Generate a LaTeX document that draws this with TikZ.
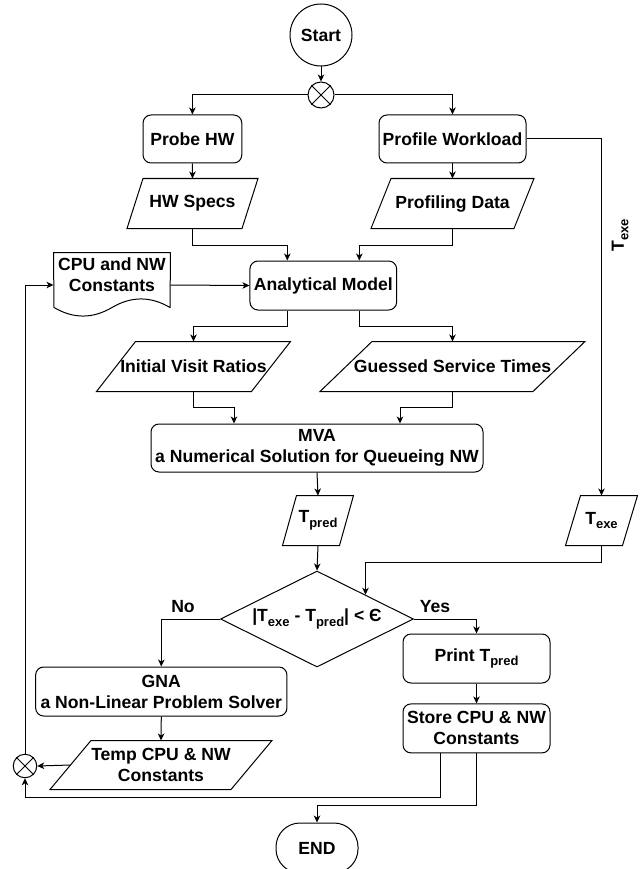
\documentclass[tikz,border=0pt]{standalone}
\usepackage{fontspec}
\setmainfont{Liberation Sans}
\usetikzlibrary{arrows.meta,calc,shapes.geometric}
\newcommand{\subt}[1]{\raisebox{-4.5pt}{\fontsize{13}{13}\selectfont #1}}
\newcommand{\mypara}[7]{%
  \node[pbox, minimum width=#4pt, minimum height=#5pt] (#1) at (#2,#3) {#7};
  \draw ($(#1.south west)+(-0.5*#6,0)$) -- ($(#1.south east)+(-0.5*#6,0)$) --
        ($(#1.north east)+(0.5*#6,0)$) -- ($(#1.north west)+(0.5*#6,0)$) -- cycle;}
\begin{document}
\begin{tikzpicture}[x=1pt,y=-1pt,line width=1pt,
  every node/.style={font=\fontsize{17.6}{21}\selectfont\bfseries, align=center},
  rbox/.style={draw, rounded corners=8pt, inner sep=0pt},
  pbox/.style={inner sep=0pt},
  xcirc/.style={draw, circle, inner sep=0pt},
  arr/.style={-{Stealth[length=7pt,width=6.5pt,inset=2pt]}}]
\useasboundingbox (0,0) rectangle (640,869);
\clip (0,0) rectangle (640,869);

% nodes
\node[draw, circle, minimum size=62pt, inner sep=0pt] (start) at (321,35) {Start};
\node[xcirc, minimum size=26pt] (m1) at (321,95) {};
\draw (m1.north west) -- (m1.south east) (m1.north east) -- (m1.south west);

\node[rbox, minimum width=98.7pt, minimum height=48pt] (probe) at (192.4,139) {Probe HW};
\node[rbox, minimum width=147pt, minimum height=48pt] (profile) at (452.5,139) {Profile Workload};

\mypara{hws}{192.5}{203.5}{114}{49}{16}{HW Specs}
\mypara{pdata}{452.5}{203.5}{142}{49}{20}{Profiling Data}

\node[inner sep=0pt, minimum width=116pt, minimum height=64pt] (doc) at (112,285) {};
\draw (doc.north east) -- (doc.north west) -- (54,307.5)
  .. controls (73.33,318.9) and (92.67,318.9) .. (112,307.5)
  .. controls (131.33,296.1) and (150.67,296.1) .. (170,307.5) -- (doc.north east);
\node[pbox] (doctext) at ([yshift=10pt]doc.center) {CPU and NW\\Constants};

\node[rbox, minimum width=146.7pt, minimum height=49pt] (am) at (323.3,285.5) {Analytical Model};

\mypara{ivr}{193.5}{366.5}{154}{49}{39}{Initial Visit Ratios}
\mypara{gst}{452.5}{366.5}{212}{49}{52}{Guessed Service Times}

\node[rbox, minimum width=332pt, minimum height=48pt] (mva) at (317,448) {MVA\\a Numerical Solution for Queueing NW};

\mypara{tpred}{318}{520.5}{56}{49}{14}{T\subt{pred}}
\mypara{texe}{601.5}{520.5}{56}{49}{15}{T\subt{exe}}

\node[draw, diamond, aspect=2, inner sep=0pt, minimum width=193pt, minimum height=96pt] (dec) at (317,619) {|T\subt{exe} - T\subt{pred}| < Є};

\node[rbox, minimum width=251.3pt, minimum height=49pt] (gna) at (161.3,691.5) {GNA\\a Non-Linear Problem Solver};
\node[rbox, minimum width=147pt, minimum height=49pt] (print) at (476.5,658.5) {Print T\subt{pred}};
\node[rbox, minimum width=147pt, minimum height=49pt] (store) at (476.5,728.4) {Store CPU \& NW\\Constants};

\mypara{temp}{161}{765}{180}{48}{41}{Temp CPU \& NW\\Constants}
\node[xcirc, minimum size=23.5pt] (m2) at (25,766) {};
\draw (m2.north west) -- (m2.south east) (m2.north east) -- (m2.south west);

\node[draw, rounded corners=24pt, minimum width=82pt, minimum height=50pt, inner sep=0pt] (end) at (317,848) {END};

% labels
\node (lno) at (183,607) {No};
\node (lyes) at (435,607) {Yes};
\node[rotate=90] (ltexe) at (620,235) {T\subt{exe}};

% connectors
\draw[arr] (start) -- (m1);
\draw[arr] (m1.west) -| (probe.north);
\draw[arr] (m1.east) -| (profile.north);
\draw[arr] (probe.south) -- (hws.north);
\draw[arr] (profile.south) -- (pdata.north);
\draw[arr] (hws.south) -- ++(0,17) -| ([xshift=-36pt]am.north);
\draw[arr] (pdata.south) -- ++(0,17) -| ([xshift=36pt]am.north);
\draw[arr] (doc.east) -- (am.west);
\draw[arr] (m2.north) |- (doc.west);
\draw[arr] ([xshift=-36pt]am.south) -- ++(0,16) -| (ivr.north);
\draw[arr] ([xshift=36pt]am.south) -- ++(0,16) -| (gst.north);
\draw[arr] (ivr.south) -- ++(0,16) -| ([xshift=-83pt]mva.north);
\draw[arr] (gst.south) -- ++(0,16) -| ([xshift=83pt]mva.north);
\draw[arr] (mva.south) -- (tpred.north);
\draw[arr] (profile.east) -| (texe.north);
\draw[arr] (tpred.south) -- (dec.north);
\draw[arr] (texe.south) -- ++(0,16.5) -| ($(dec.north)!0.5!(dec.east)$);
\draw[arr] (dec.west) -| (gna.north);
\draw[arr] (dec.east) -| (print.north);
\draw[arr] (print.south) -- (store.north);
\draw[arr] (gna.south) -- (temp.north);
\draw[arr] (temp.west) -- (m2.east);
\draw[arr] ([xshift=-36pt]store.south) -- ++(0,44) -| (m2.south);
\draw[arr] (store.south) -- ++(0,52.5) -| (end.north);
\end{tikzpicture}
\end{document}
